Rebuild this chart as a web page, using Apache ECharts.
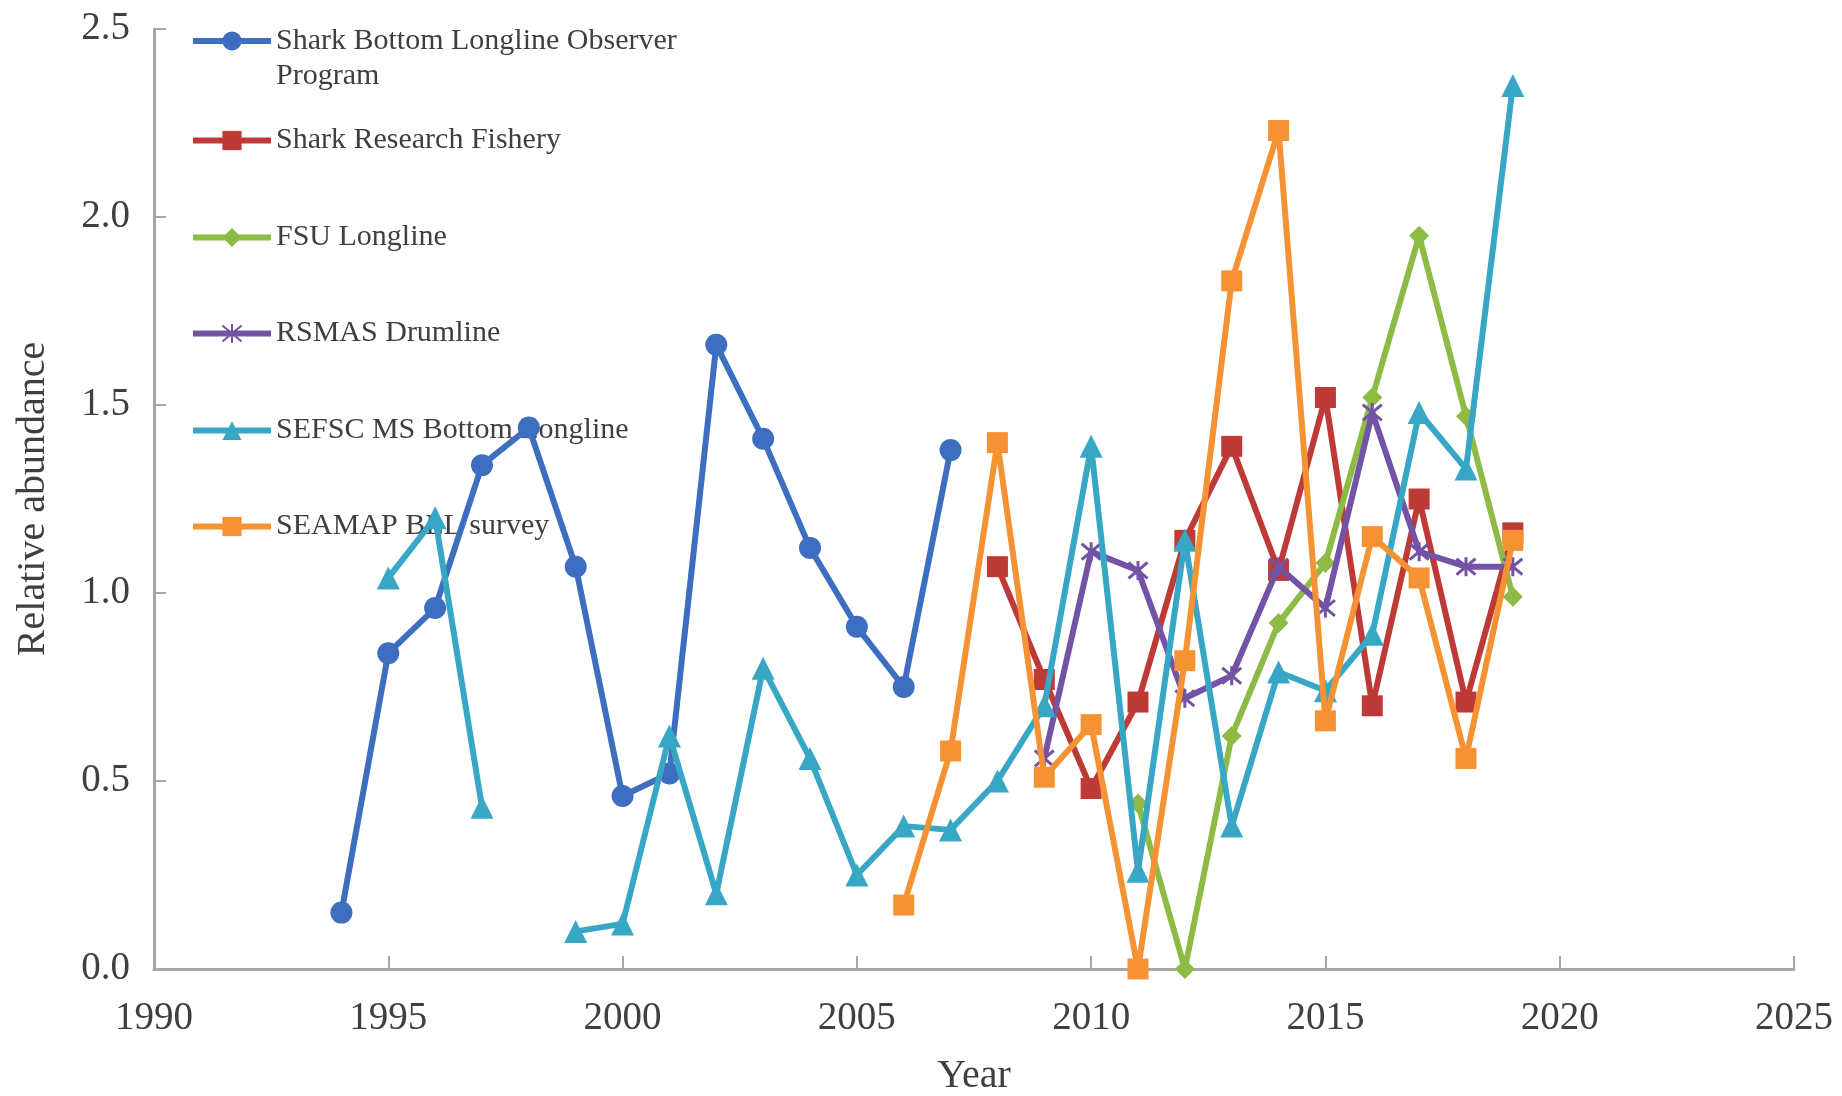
<!DOCTYPE html>
<html>
<head>
<meta charset="utf-8">
<title>Relative abundance by survey</title>
<script src="https://cdn.jsdelivr.net/npm/echarts@6/dist/echarts.min.js"></script>
<style>
  html, body { margin: 0; padding: 0; background: #ffffff; }
  #chart { width: 1842px; height: 1096px; }
</style>
</head>
<body>
<div id="chart"></div>
<script>
// Index series (relative abundance by year); null marks a year with no estimate
const seriesNames = [
  'Shark Bottom Longline Observer Program',
  'Shark Research Fishery',
  'FSU Longline',
  'RSMAS Drumline',
  'SEFSC MS Bottom Longline',
  'SEAMAP BLL survey'
];

const bllopYears = [1994, 1995, 1996, 1997, 1998, 1999, 2000, 2001, 2002, 2003, 2004, 2005, 2006, 2007];
const bllopValues = [0.15, 0.84, 0.96, 1.34, 1.44, 1.07, 0.46, 0.52, 1.66, 1.41, 1.12, 0.91, 0.75, 1.38];

const srfYears = [2008, 2009, 2010, 2011, 2012, 2013, 2014, 2015, 2016, 2017, 2018, 2019];
const srfValues = [1.07, 0.77, 0.48, 0.71, 1.14, 1.39, 1.06, 1.52, 0.70, 1.25, 0.71, 1.16];

const fsuYears = [2011, 2012, 2013, 2014, 2015, 2016, 2017, 2018, 2019];
const fsuValues = [0.44, 0.00, 0.62, 0.92, 1.08, 1.52, 1.95, 1.47, 0.99];

const rsmasYears = [2009, 2010, 2011, 2012, 2013, 2014, 2015, 2016, 2017, 2018, 2019];
const rsmasValues = [0.56, 1.11, 1.06, 0.72, 0.78, 1.07, 0.96, 1.48, 1.11, 1.07, 1.07];

const sefscYears = [1995, 1996, 1997, 1998, 1999, 2000, 2001, 2002, 2003, 2004, 2005, 2006, 2007,
                    2008, 2009, 2010, 2011, 2012, 2013, 2014, 2015, 2016, 2017, 2018, 2019];
const sefscValues = [1.04, 1.20, 0.43, null, 0.10, 0.12, 0.62, 0.20, 0.80, 0.56, 0.25, 0.38, 0.37,
                     0.50, 0.70, 1.39, 0.26, 1.14, 0.38, 0.79, 0.74, 0.89, 1.48, 1.33, 2.35];

const seamapYears = [2006, 2007, 2008, 2009, 2010, 2011, 2012, 2013, 2014, 2015, 2016, 2017, 2018, 2019];
const seamapValues = [0.17, 0.58, 1.40, 0.51, 0.65, 0.00, 0.82, 1.83, 2.23, 0.66, 1.15, 1.04, 0.56, 1.14];

const xTicks = [1990, 1995, 2000, 2005, 2010, 2015, 2020, 2025];
const yTicks = [0.0, 0.5, 1.0, 1.5, 2.0, 2.5];

const colors = ['#3D6EC0', '#BE3A36', '#8DBB45', '#7353A6', '#38A7C6', '#F59334'];

// asterisk marker: an x crossed by a vertical stroke
const asterisk = 'path://M0,0L10,10M10,0L0,10M5,-1L5,11';

function pairs(years, values) {
  return years.map((y, i) => [y, values[i] === null ? '-' : values[i]]);
}

const FONT = '"Liberation Serif", "Times New Roman", serif';
const TEXT = '#3F3F3F';
const AXIS = '#A6A6A6';
const LINE_W = 6;

const seriesDefs = [
  { data: pairs(bllopYears, bllopValues), symbol: 'circle', size: 22 },
  { data: pairs(srfYears, srfValues), symbol: 'rect', size: 21 },
  { data: pairs(fsuYears, fsuValues), symbol: 'diamond', size: 20 },
  { data: pairs(rsmasYears, rsmasValues), symbol: asterisk, size: 19, stroke: true },
  { data: pairs(sefscYears, sefscValues), symbol: 'triangle', size: 23 },
  { data: pairs(seamapYears, seamapValues), symbol: 'rect', size: 21 }
];

const series = seriesDefs.map((d, i) => ({
  name: seriesNames[i],
  type: 'line',
  data: d.data,
  connectNulls: false,
  symbol: d.symbol,
  symbolSize: d.size,
  showAllSymbol: true,
  z: 3 + i,
  lineStyle: { color: colors[i], width: LINE_W },
  itemStyle: d.stroke
    ? { color: colors[i], borderColor: colors[i], borderWidth: 3 }
    : { color: colors[i] },
  emphasis: { disabled: true },
  animation: false
}));

// one legend block per series so each row sits at its own height;
// the first label wraps onto a second line, led by a blank line so the
// first line stays level with its key
const legendCenters = [41, 135, 232, 328, 425, 521];
const legends = seriesNames.map((name, i) => {
  const first = i === 0;
  return {
    data: [name],
    orient: 'vertical',
    left: 190,
    top: first ? legendCenters[i] - 52.5 : legendCenters[i] - 12,
    padding: 0,
    itemWidth: 78,
    itemHeight: 24,
    itemGap: 0,
    z: 1,
    selectedMode: false,
    lineStyle: { width: LINE_W },
    formatter: first ? '\nShark Bottom Longline Observer\nProgram' : '{name}',
    textStyle: { fontFamily: FONT, fontSize: 30, color: TEXT, lineHeight: 35 }
  };
});

const chart = echarts.init(document.getElementById('chart'), null, { renderer: 'canvas' });
chart.setOption({
  backgroundColor: '#ffffff',
  animation: false,
  legend: legends,
  grid: { left: 154, right: 48, top: 29, bottom: 127, containLabel: false, outerBoundsMode: 'none' },
  xAxis: {
    type: 'value',
    min: xTicks[0],
    max: xTicks[xTicks.length - 1],
    interval: 5,
    name: 'Year',
    nameLocation: 'middle',
    nameGap: 87,
    nameTextStyle: { fontFamily: FONT, fontSize: 40, color: TEXT },
    axisLine: { show: true, lineStyle: { color: AXIS, width: 3 } },
    axisTick: { show: true, inside: true, length: 13, lineStyle: { color: AXIS, width: 2 } },
    axisLabel: { fontFamily: FONT, fontSize: 39, color: TEXT, margin: 30, formatter: v => String(v) },
    splitLine: { show: false }
  },
  yAxis: {
    type: 'value',
    min: yTicks[0],
    max: yTicks[yTicks.length - 1],
    interval: 0.5,
    name: 'Relative abundance',
    nameLocation: 'middle',
    nameGap: 101,
    nameRotate: 90,
    nameTextStyle: { fontFamily: FONT, fontSize: 40, color: TEXT },
    axisLine: { show: true, lineStyle: { color: AXIS, width: 3 } },
    axisTick: { show: true, inside: true, length: 12, lineStyle: { color: AXIS, width: 2 } },
    axisLabel: { fontFamily: FONT, fontSize: 39, color: TEXT, margin: 24, formatter: v => v.toFixed(1) },
    splitLine: { show: false }
  },
  series: series
});
</script>
</body>
</html>
